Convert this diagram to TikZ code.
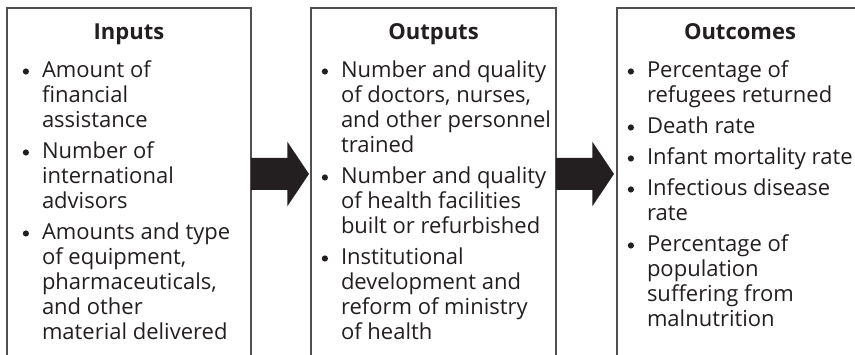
\documentclass[tikz,border=0pt]{standalone}
\usepackage{fontspec}
\setmainfont{Open Sans}
\usetikzlibrary{calc}
\definecolor{ink}{HTML}{231F20}
\definecolor{frame}{HTML}{505050}
\newcommand\blt{\llap{\tikz[baseline=0pt]\fill[ink] (0pt,5.8pt) circle (3.1pt);\hspace{13pt}}}
\newcommand\lns[1]{\vtop{\baselineskip=25pt\lineskiplimit=-100pt\lineskip=0pt #1}}
\newcommand\gp{\vskip6pt}
\tikzset{
  box/.style={draw=frame, line width=1.4pt, fill=white, rectangle, inner sep=0pt, outer sep=0pt,
    anchor=north west, minimum height=420pt},
  ttl/.style={inner sep=0pt, outer sep=0pt, anchor=base, text=ink, font=\fontsize{22pt}{25pt}\selectfont\bfseries},
  lst/.style={inner sep=0pt, outer sep=0pt, anchor=base west, text=ink, font=\fontsize{22pt}{25pt}\selectfont},
  arrowfill/.style={fill=ink}
}
\begin{document}
\begin{tikzpicture}[x=1pt,y=-1pt]
\useasboundingbox (0,0) rectangle (855,355);
\clip (0,0) rectangle (855,355);
% boxes
\node[box, minimum width=244pt] (in) at (7,8) {};
\node[box, minimum width=245pt] (out) at (311,8) {};
\node[box, minimum width=246pt] (res) at (617,8) {};
% titles
\node[ttl] (tin) at (129,39.5) {Inputs};
\node[ttl] (tout) at (433.5,39.5) {Outputs};
\node[ttl] (tres) at (740,39.5) {Outcomes};
% lists
\node[lst] (lin) at (42,77.3) {\lns{%
  \hbox{\blt Amount of}\hbox{financial}\hbox{assistance}\gp
  \hbox{\blt Number of}\hbox{international}\hbox{advisors}\gp
  \hbox{\blt Amounts and type}\hbox{of equipment,}\hbox{pharmaceuticals,}\hbox{and other}\hbox{material delivered}}};
\node[lst] (lout) at (341,77.3) {\lns{%
  \hbox{\blt Number and quality}\hbox{of doctors, nurses,}\hbox{and other personnel}\hbox{trained}\gp
  \hbox{\blt Number and quality}\hbox{of health facilities}\hbox{built or refurbished}\gp
  \hbox{\blt Institutional}\hbox{development and}\hbox{reform of ministry}\hbox{of health}}};
\node[lst] (lres) at (647,77.3) {\lns{%
  \hbox{\blt Percentage of}\hbox{refugees returned}\gp
  \hbox{\blt Death rate}\gp
  \hbox{\blt Infant mortality rate}\gp
  \hbox{\blt Infectious disease}\hbox{rate}\gp
  \hbox{\blt Percentage of}\hbox{population}\hbox{suffering from}\hbox{malnutrition}}};
% arrows
\coordinate (a1s) at ($(in.north east)+(0,166)$);
\coordinate (a1e) at ($(out.north west)+(-2,166)$);
\coordinate (a2s) at ($(out.north east)+(0,166)$);
\coordinate (a2e) at ($(res.north west)+(-3,166)$);
\foreach \s/\e in {a1s/a1e,a2s/a2e}{
  \fill[arrowfill] ($(\s)+(0,-16)$) -- ($(\e)+(-21.6,-16)$) -- ($(\e)+(-21.6,-32.2)$) -- (\e)
    -- ($(\e)+(-21.6,32.2)$) -- ($(\e)+(-21.6,16)$) -- ($(\s)+(0,16)$) -- cycle;
}
\end{tikzpicture}
\end{document}
